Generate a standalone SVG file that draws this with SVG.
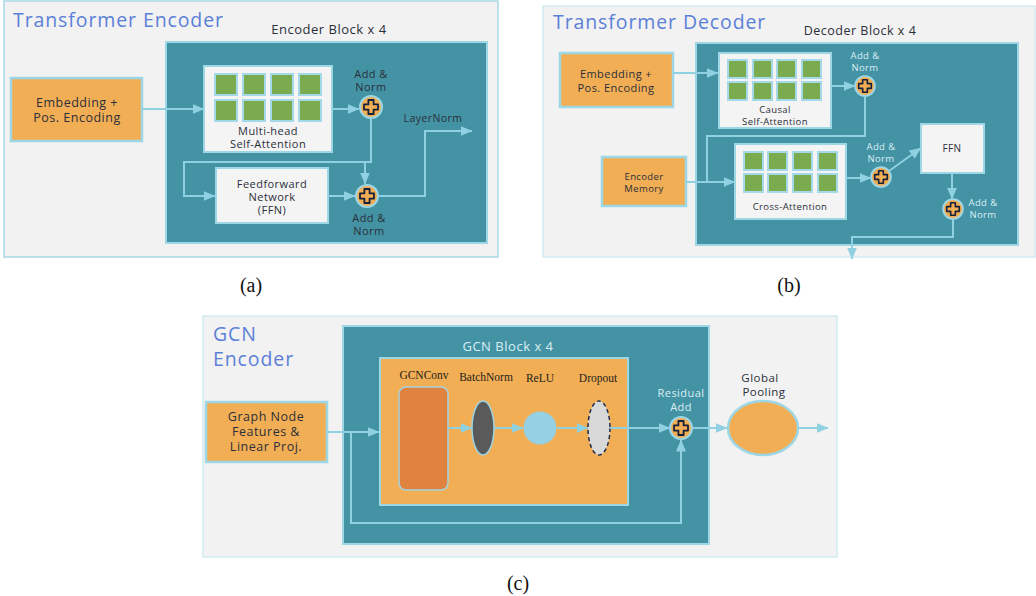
<svg xmlns="http://www.w3.org/2000/svg" xmlns:xlink="http://www.w3.org/1999/xlink" width="1036" height="596" viewBox="0 0 1036 596">
  <style>
    .panel { fill: #f2f2f2; stroke: #d5ebf1; stroke-width: 1.5; }
    .panel-a { fill: #f2f2f2; stroke: #a9d9e6; stroke-width: 1.5; }
    .block { fill: #4393a5; stroke: #9dd6e5; stroke-width: 2; }
    .box-w { fill: #f4f4f4; stroke: #9dd6e5; stroke-width: 2; }
    .box-o { fill: #f2ae55; stroke: #9dd6e5; stroke-width: 2.5; }
    .head { fill: #7aab4f; stroke: #a3d9e8; stroke-width: 2; }
    .conn { fill: none; stroke: #8fd0e1; stroke-width: 2; }
    .title { font-family: "Open Sans", "Noto Sans", sans-serif; fill: #5b80d8; font-size: 19.5px; letter-spacing: 0.9px; }
    .lbl { font-family: "Open Sans", "Noto Sans", sans-serif; fill: #2b2f3a; text-anchor: middle; letter-spacing: 0.04em; }
    .lbl-l { font-family: "Open Sans", "Noto Sans", sans-serif; fill: #dbeef3; text-anchor: middle; letter-spacing: 0.04em; }
    .serif { font-family: "Liberation Serif", "Times New Roman", serif; fill: #1e1e1e; text-anchor: middle; }
    .cap { font-family: "Liberation Serif", "Times New Roman", serif; fill: #111; font-size: 20px; text-anchor: middle; }
  </style>
  <defs>
    <marker id="arr" markerUnits="userSpaceOnUse" markerWidth="12" markerHeight="10" viewBox="0 0 12 10" refX="11.5" refY="5" orient="auto">
      <path d="M0,0 L12,5 L0,10 z" fill="#8fd0e1"/>
    </marker>
    <!-- add / norm operator: orange disc with an outlined plus -->
    <g id="addop">
      <circle r="11" fill="#f2ae55" stroke="#9dd6e5" stroke-width="2"/>
      <path d="M-2.6,-7 h5.2 v4.4 h4.4 v5.2 h-4.4 v4.4 h-5.2 v-4.4 h-4.4 v-5.2 h4.4 z" fill="#f2ae55" stroke="#15203a" stroke-width="1.8" stroke-linejoin="round"/>
    </g>
  </defs>

  <rect width="1036" height="596" fill="#ffffff"/>

  <!-- ===== (a) Transformer Encoder ===== -->
  <g id="enc-panel">
    <rect class="panel-a" x="4" y="1" width="494" height="256"/>
    <text class="title" x="13" y="27">Transformer Encoder</text>
  </g>
  <g id="enc-block">
    <rect class="block" x="166" y="42" width="321" height="201"/>
    <text class="lbl" x="329" y="34" font-size="13">Encoder Block x 4</text>
  </g>
  <g id="enc-embed">
    <rect class="box-o" x="11" y="78" width="131" height="63"/>
    <text class="lbl" x="77" y="107" font-size="12.5">Embedding +</text>
    <text class="lbl" x="77" y="122" font-size="12.5">Pos. Encoding</text>
  </g>
  <g id="enc-mhsa">
    <rect class="box-w" x="204" y="66" width="128" height="86"/>
    <rect class="head" x="215" y="74" width="22" height="21"/>
    <rect class="head" x="243" y="74" width="22" height="21"/>
    <rect class="head" x="271" y="74" width="22" height="21"/>
    <rect class="head" x="299" y="74" width="22" height="21"/>
    <rect class="head" x="215" y="100" width="22" height="21"/>
    <rect class="head" x="243" y="100" width="22" height="21"/>
    <rect class="head" x="271" y="100" width="22" height="21"/>
    <rect class="head" x="299" y="100" width="22" height="21"/>
    <text class="lbl" x="268" y="135" font-size="11">Multi-head</text>
    <text class="lbl" x="268" y="148" font-size="11">Self-Attention</text>
  </g>
  <g id="enc-ffn">
    <rect class="box-w" x="216" y="168" width="112" height="55"/>
    <text class="lbl" x="272" y="188" font-size="11">Feedforward</text>
    <text class="lbl" x="272" y="201" font-size="11">Network</text>
    <text class="lbl" x="272" y="214" font-size="11">(FFN)</text>
  </g>
  <g id="enc-add1">
    <use href="#addop" xlink:href="#addop" x="371" y="107"/>
    <text class="lbl" x="371" y="78" font-size="11" fill="#1f2d4d">Add &amp;</text>
    <text class="lbl" x="371" y="91" font-size="11" fill="#1f2d4d">Norm</text>
  </g>
  <g id="enc-add2">
    <use href="#addop" xlink:href="#addop" x="367" y="196"/>
    <text class="lbl" x="369" y="222" font-size="11" fill="#1f2d4d">Add &amp;</text>
    <text class="lbl" x="369" y="235" font-size="11" fill="#1f2d4d">Norm</text>
  </g>
  <g id="enc-out">
    <text class="lbl" x="433" y="122" font-size="10.5" fill="#1f2d4d">LayerNorm</text>
  </g>

  <!-- ===== (b) Transformer Decoder ===== -->
  <g id="dec-panel">
    <rect class="panel" x="543" y="6" width="492" height="251"/>
    <text class="title" x="553" y="29">Transformer Decoder</text>
  </g>
  <g id="dec-block">
    <rect class="block" x="696" y="43" width="322" height="202"/>
    <text class="lbl" x="860" y="35" font-size="12.5">Decoder Block x 4</text>
  </g>
  <g id="dec-embed">
    <rect class="box-o" x="560" y="53" width="113" height="54"/>
    <text class="lbl" x="616" y="78" font-size="11">Embedding +</text>
    <text class="lbl" x="616" y="91.5" font-size="11">Pos. Encoding</text>
  </g>
  <g id="dec-memory">
    <rect class="box-o" x="602" y="157" width="84" height="49"/>
    <text class="lbl" x="644" y="179.5" font-size="9.5">Encoder</text>
    <text class="lbl" x="644" y="191.5" font-size="9.5">Memory</text>
  </g>
  <g id="dec-causal">
    <rect class="box-w" x="719" y="53" width="112" height="75"/>
    <rect class="head" x="728" y="60" width="19" height="18"/>
    <rect class="head" x="753" y="60" width="19" height="18"/>
    <rect class="head" x="777" y="60" width="19" height="18"/>
    <rect class="head" x="802" y="60" width="19" height="18"/>
    <rect class="head" x="728" y="82" width="19" height="18"/>
    <rect class="head" x="753" y="82" width="19" height="18"/>
    <rect class="head" x="777" y="82" width="19" height="18"/>
    <rect class="head" x="802" y="82" width="19" height="18"/>
    <text class="lbl" x="775" y="113" font-size="9.5">Causal</text>
    <text class="lbl" x="775" y="125" font-size="9.5">Self-Attention</text>
  </g>
  <g id="dec-cross">
    <rect class="box-w" x="735" y="144" width="111" height="75"/>
    <rect class="head" x="744" y="152" width="19" height="18"/>
    <rect class="head" x="768" y="152" width="19" height="18"/>
    <rect class="head" x="793" y="152" width="19" height="18"/>
    <rect class="head" x="818" y="152" width="19" height="18"/>
    <rect class="head" x="744" y="174" width="19" height="18"/>
    <rect class="head" x="768" y="174" width="19" height="18"/>
    <rect class="head" x="793" y="174" width="19" height="18"/>
    <rect class="head" x="818" y="174" width="19" height="18"/>
    <text class="lbl" x="790" y="210" font-size="9.5">Cross-Attention</text>
  </g>
  <g id="dec-ffn">
    <rect class="box-w" x="921" y="124" width="63" height="49"/>
    <text class="lbl" x="952" y="152" font-size="10">FFN</text>
  </g>
  <g id="dec-add1">
    <use href="#addop" xlink:href="#addop" transform="translate(865,86) scale(0.9)"/>
    <text class="lbl-l" x="865" y="59" font-size="9.5">Add &amp;</text>
    <text class="lbl-l" x="865" y="71" font-size="9.5">Norm</text>
  </g>
  <g id="dec-add2">
    <use href="#addop" xlink:href="#addop" transform="translate(881,177) scale(0.9)"/>
    <text class="lbl-l" x="881" y="150" font-size="9.5">Add &amp;</text>
    <text class="lbl-l" x="881" y="162" font-size="9.5">Norm</text>
  </g>
  <g id="dec-add3">
    <use href="#addop" xlink:href="#addop" transform="translate(953,209) scale(0.9)"/>
    <text class="lbl-l" x="983" y="206" font-size="9.5">Add &amp;</text>
    <text class="lbl-l" x="983" y="218" font-size="9.5">Norm</text>
  </g>

  <!-- ===== (c) GCN Encoder ===== -->
  <g id="gcn-panel">
    <rect class="panel" x="203" y="316" width="634" height="241"/>
    <text class="title" x="213" y="341" font-size="19.5" letter-spacing="1.3">GCN</text>
    <text class="title" x="213" y="366" font-size="19.5" letter-spacing="1.3">Encoder</text>
  </g>
  <g id="gcn-block">
    <rect class="block" x="343" y="326" width="366" height="218"/>
    <text class="lbl-l" x="508" y="351" font-size="13">GCN Block x 4</text>
  </g>
  <g id="gcn-inner">
    <rect fill="#f2ae55" stroke="#9dd6e5" stroke-width="2" x="380" y="358" width="248" height="147"/>
  </g>
  <g id="gcn-input">
    <rect class="box-o" x="206" y="402" width="121" height="60"/>
    <text class="lbl" x="266" y="421" font-size="12.5">Graph Node</text>
    <text class="lbl" x="266" y="436" font-size="12.5">Features &amp;</text>
    <text class="lbl" x="266" y="451" font-size="12.5">Linear Proj.</text>
  </g>
  <g id="gcn-conv">
    <rect x="399" y="387" width="49" height="103" rx="7" fill="#e08340" stroke="#a6d3df" stroke-width="1.5"/>
    <text class="serif" x="424" y="379" font-size="11.5">GCNConv</text>
  </g>
  <g id="gcn-bn">
    <ellipse cx="483" cy="428" rx="11" ry="27" fill="#5a5a5a" stroke="#9dd6e5" stroke-width="1.5"/>
    <text class="serif" x="486" y="381" font-size="11.5">BatchNorm</text>
  </g>
  <g id="gcn-relu">
    <circle cx="540" cy="428" r="16.5" fill="#95d1e3"/>
    <text class="serif" x="540" y="382" font-size="11.5">ReLU</text>
  </g>
  <g id="gcn-dropout">
    <ellipse cx="599" cy="428" rx="11" ry="27" fill="#d9d9d9" stroke="#1f2d4d" stroke-width="1.5" stroke-dasharray="4,3"/>
    <text class="serif" x="598" y="382" font-size="11.5">Dropout</text>
  </g>
  <g id="gcn-residual">
    <use href="#addop" xlink:href="#addop" x="681" y="428"/>
    <text class="lbl-l" x="681" y="397" font-size="11">Residual</text>
    <text class="lbl-l" x="681" y="411" font-size="11">Add</text>
  </g>
  <g id="gcn-pool">
    <ellipse cx="763" cy="428" rx="35" ry="27" fill="#f2ae55" stroke="#9dd6e5" stroke-width="2.5"/>
    <text class="lbl" x="760" y="382" font-size="11.5" fill="#1f2d4d">Global</text>
    <text class="lbl" x="764" y="396" font-size="11.5" fill="#1f2d4d">Pooling</text>
  </g>

  <!-- ===== connectors ===== -->
  <g id="connectors">
    <!-- encoder -->
    <path class="conn" d="M142,109 H204" marker-end="url(#arr)"/>
    <path class="conn" d="M332,109 H359" marker-end="url(#arr)"/>
    <path class="conn" d="M371,118 V162 H184 V196 H215" marker-end="url(#arr)"/>
    <path class="conn" d="M365,162 V184" marker-end="url(#arr)"/>
    <path class="conn" d="M328,196 H355" marker-end="url(#arr)"/>
    <path class="conn" d="M378,196 H425 V131 H472" marker-end="url(#arr)"/>
    <!-- decoder -->
    <path class="conn" d="M673,73 H718" marker-end="url(#arr)"/>
    <path class="conn" d="M831,86 H855" marker-end="url(#arr)"/>
    <path class="conn" d="M865,96 V136 H707 V182 H735" marker-end="url(#arr)"/>
    <path class="conn" d="M686,182 H707"/>
    <path class="conn" d="M846,178 H871" marker-end="url(#arr)"/>
    <path class="conn" d="M889,171 L921,148" marker-end="url(#arr)"/>
    <path class="conn" d="M952,173 V199" marker-end="url(#arr)"/>
    <path class="conn" d="M953,219 V237 H852 V259" marker-end="url(#arr)"/>
    <!-- gcn -->
    <path class="conn" d="M327,432 H379" marker-end="url(#arr)"/>
    <path class="conn" d="M351,432 V523 H681 V440" marker-end="url(#arr)"/>
    <path class="conn" d="M448,428 H472" marker-end="url(#arr)"/>
    <path class="conn" d="M494,428 H523" marker-end="url(#arr)"/>
    <path class="conn" d="M557,428 H588" marker-end="url(#arr)"/>
    <path class="conn" d="M610,428 H670" marker-end="url(#arr)"/>
    <path class="conn" d="M692,428 H727" marker-end="url(#arr)"/>
    <path class="conn" d="M798,428 H828" marker-end="url(#arr)"/>
  </g>

  <!-- captions -->
  <g id="captions">
    <text class="cap" x="251" y="292">(a)</text>
    <text class="cap" x="789" y="292">(b)</text>
    <text class="cap" x="518" y="590">(c)</text>
  </g>
</svg>
